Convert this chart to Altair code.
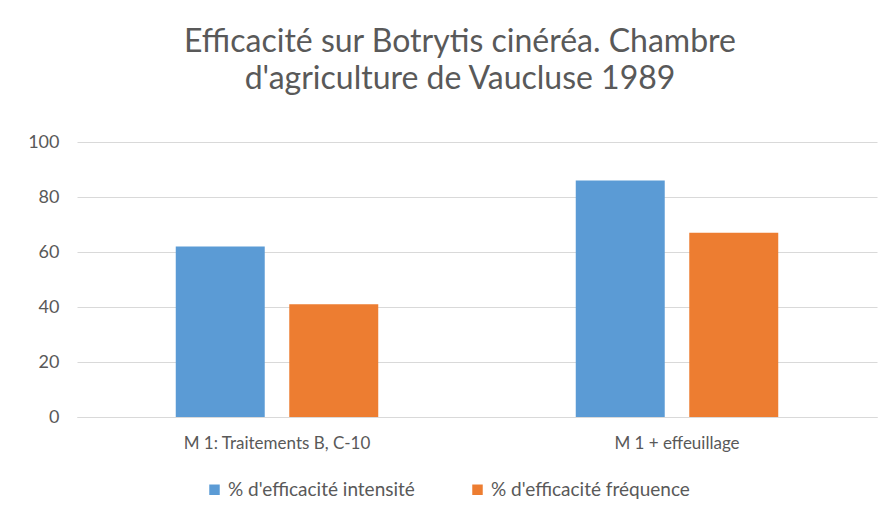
import altair as alt
import pandas as pd

categories = ["M 1: Traitements B, C-10", "M 1 + effeuillage"]
series = ["% d'efficacité intensité", "% d'efficacité fréquence"]
intensite = [62, 86]
frequence = [41, 67]
colors = ["#5B9BD5", "#ED7D31"]

rows = []
for c, a, b in zip(categories, intensite, frequence):
    rows.append({"cat": c, "serie": series[0], "val": a})
    rows.append({"cat": c, "serie": series[1], "val": b})
df = pd.DataFrame(rows)

font = "Lato"

bars = alt.Chart(df).mark_bar().encode(
    x=alt.X("cat:N", sort=categories, title=None,
            scale=alt.Scale(paddingInner=0, paddingOuter=0),
            axis=alt.Axis(labelAngle=0, labelFontSize=17, labelColor="#595959",
                          labelFont=font, ticks=False, labelPadding=18,
                          labelLimit=400,
                          domainColor="#d9d9d9", domainWidth=1)),
    xOffset=alt.XOffset("serie:N", sort=series,
                        scale=alt.Scale(paddingInner=0.216, paddingOuter=0.87)),
    y=alt.Y("val:Q", title=None,
            scale=alt.Scale(domain=[0, 100]),
            axis=alt.Axis(values=[0, 20, 40, 60, 80, 100], labelFontSize=18,
                          labelColor="#595959", labelFont=font, ticks=False,
                          domain=False, gridColor="#d9d9d9", labelPadding=18)),
    color=alt.Color("serie:N", sort=series,
                    scale=alt.Scale(domain=series, range=colors),
                    legend=alt.Legend(title=None, orient="none", direction="horizontal",
                                      legendX=128, legendY=338,
                                      symbolType="square", symbolSize=110,
                                      labelFontSize=19, labelColor="#595959",
                                      labelFont=font, columnPadding=53,
                                      labelLimit=400,
                                      symbolStrokeWidth=0)),
)

chart = bars.properties(
    width=800,
    height=275,
    padding={"left": 69, "top": 134, "right": 8, "bottom": 94},
    autosize=alt.AutoSizeParams(type="none"),
    title=alt.TitleParams(
        text=["Efficacité sur Botrytis cinéréa. Chambre", "d'agriculture de Vaucluse 1989"],
        fontSize=32, font=font, fontWeight="normal", color="#595959",
        anchor="middle", dx=-17, offset=37, lineHeight=37,
    ),
).configure_view(stroke=None)

chart.save("out.html", embed_options={"renderer": "svg", "actions": False})
